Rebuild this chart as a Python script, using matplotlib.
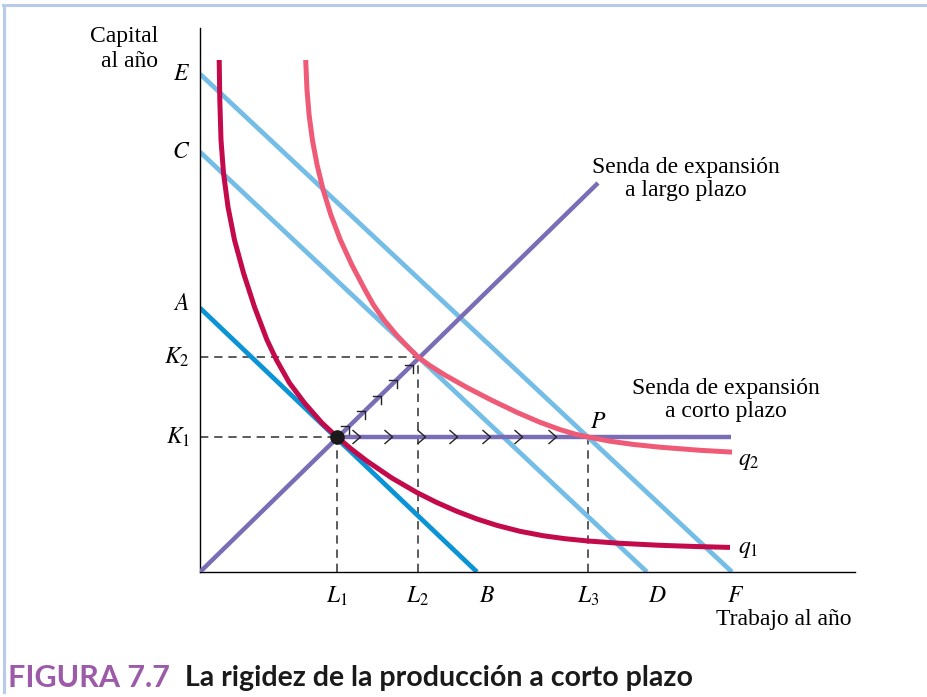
import numpy as np
import matplotlib.pyplot as plt
from matplotlib.lines import Line2D

plt.rcParams['font.family'] = ['Liberation Serif', 'DejaVu Serif']
plt.rcParams['mathtext.fontset'] = 'stix'

# Isocost line intercepts (capital axis, labour axis)
A, B = 26.4, 27.7
C, D = 42.0, 44.7
E, F = 49.8, 53.2

# Input levels
L1, L2, L3 = 13.7, 21.8, 38.8
K1, K2 = 13.5, 21.5

# Expansion paths
long_run_x = [0.0, 39.8]
long_run_y = [0.0, 38.9]
short_run_x = [13.7, 53.1]

# Isoquant q1
q1_x = [1.92, 1.98, 2.10, 2.35, 2.80, 3.45, 4.35, 5.45, 6.70, 7.65, 8.95, 10.45, 12.2, 13.7,
        15.2, 16.7, 19.2, 21.7, 23.7, 25.7, 27.7, 29.7, 32.0, 34.3, 36.5, 38.8, 42.0, 46.0,
        49.5, 53.0]
q1_y = [51.2, 47.2, 43.2, 39.9, 36.5, 33.2, 29.9, 26.5, 23.2, 21.2, 18.9, 16.9, 14.9, 13.5,
        12.24, 11.09, 9.39, 7.94, 6.94, 6.06, 5.30, 4.66, 4.07, 3.63, 3.33, 3.10, 2.87, 2.67,
        2.55, 2.46]

# Isoquant q2
q2_x = [10.57, 10.70, 10.91, 11.24, 11.71, 12.32, 13.09, 14.04, 15.19, 16.51, 17.35, 18.4,
        19.65, 20.6, 21.8, 23.0, 24.5, 26.7, 29.2, 31.7, 34.0, 36.0, 37.5, 38.8, 41.0, 43.3,
        46.0, 50.0, 53.2]
q2_y = [51.2, 48.2, 45.7, 43.2, 40.7, 38.2, 35.7, 33.2, 30.7, 28.2, 26.7, 25.2,
        23.7, 22.7, 21.5, 20.63, 19.69, 18.45, 17.16, 15.96, 14.97, 14.24, 13.79, 13.5, 13.08,
        12.76, 12.48, 12.17, 11.99]

# Arrow marks along the paths
chevron_x = [16.0, 19.2, 22.5, 25.7, 29.0, 32.2, 35.6]
hook_x = [14.9, 16.5, 18.1, 19.7, 21.3]
hook_y = [14.6, 16.1, 17.6, 19.2, 20.7]

col_q1 = '#c30a4b'
col_q2 = '#ef5b76'
col_ab = '#0a93d5'
col_iso = '#74bde7'
col_path = '#7a6db6'
col_dash = '#404040'

fig = plt.figure(figsize=(9.27, 6.97), dpi=100)
ax = fig.add_axes([200 / 927, 125 / 697, 655 / 927, 544 / 697])
ax.set_xlim(0, 65.5)
ax.set_ylim(0, 54.4)
for s in ['top', 'right']:
    ax.spines[s].set_visible(False)
for s in ['left', 'bottom']:
    ax.spines[s].set_linewidth(1.0)
ax.set_xticks([])
ax.set_yticks([])

# dashed guides
dash = dict(color=col_dash, lw=1.2, ls=(0, (5, 3.5)), zorder=1)
ax.plot([0, L1], [K1, K1], **dash)
ax.plot([0, L2], [K2, K2], **dash)
ax.plot([L1, L1], [0, K1], **dash)
ax.plot([L2, L2], [0, K2], **dash)
ax.plot([L3, L3], [0, K1], **dash)

# isocost lines
ax.plot([0, B], [A, 0], color=col_ab, lw=3.4, zorder=2, solid_capstyle='butt')
ax.plot([0, D], [C, 0], color=col_iso, lw=3.4, zorder=2, solid_capstyle='butt')
ax.plot([0, F], [E, 0], color=col_iso, lw=3.4, zorder=2, solid_capstyle='butt')

# expansion paths
ax.plot(long_run_x, long_run_y, color=col_path, lw=3.2, zorder=3, solid_capstyle='butt')
ax.plot(short_run_x, [K1, K1], color=col_path, lw=3.2, zorder=3, solid_capstyle='butt')

# isoquants
ax.plot(q1_x, q1_y, color=col_q1, lw=3.6, zorder=4, solid_capstyle='butt', solid_joinstyle='round')
ax.plot(q2_x, q2_y, color=col_q2, lw=3.6, zorder=4, solid_capstyle='butt', solid_joinstyle='round')

# arrows along the paths
for x in chevron_x:
    ax.plot([x - 0.7, x + 0.05, x - 0.7], [K1 + 0.65, K1, K1 - 0.65], color='#222222', lw=1.0, zorder=5)
for x, y in zip(hook_x, hook_y):
    ax.plot([x - 0.8, x, x], [y, y, y - 0.8], color='#222222', lw=1.0, zorder=5)

ax.plot([L1], [K1], 'o', color='#1a1a1a', ms=9.5, zorder=6)

# labels
fs = 17
ax.text(-4.2, 52.3, 'Capital\nal año', ha='right', va='center', fontsize=fs,
        multialignment='right', linespacing=1.2)
ax.text(65.2, -4.8, 'Trabajo al año', ha='right', va='center', fontsize=fs)
for lab, y in [('E', E), ('C', C), ('A', A + 0.3), ('K_2', K2), ('K_1', K1)]:
    ax.text(-1.0, y, '$%s$' % lab, ha='right', va='center', fontsize=fs)
for lab, x in [('L_1', L1), ('L_2', L2), ('B', B + 1.0), ('L_3', L3), ('D', D + 1.0), ('F', F + 0.4)]:
    ax.text(x, -2.4, '$%s$' % lab, ha='center', va='center', fontsize=fs)
ax.text(L3 + 1.0, K1 + 1.4, '$P$', ha='center', va='center', fontsize=fs)
ax.text(53.8, 11.0, '$q_2$', ha='left', va='center', fontsize=fs)
ax.text(53.8, 2.3, '$q_1$', ha='left', va='center', fontsize=fs)
ax.text(48.6, 39.3, 'Senda de expansión\na largo plazo', ha='center', va='center',
        fontsize=fs, multialignment='center', linespacing=1.15)
ax.text(52.6, 17.2, 'Senda de expansión\na corto plazo', ha='center', va='center',
        fontsize=fs, multialignment='center', linespacing=1.15)

# caption
fig.text(8 / 927, 1 - 678 / 697, 'FIGURA 7.7', color='#9c5ba9', fontsize=22,
         family=['Lato', 'DejaVu Sans'], fontweight='bold', va='center', ha='left')
fig.text(185 / 927, 1 - 678 / 697, 'La rigidez de la producción a corto plazo', color='#1a1a1a',
         fontsize=20.5, family=['Lato', 'DejaVu Sans'], fontweight='bold', va='center', ha='left')

# frame
frame = '#b8cbeb'
fig.add_artist(Line2D([3 / 927, 1], [1 - 5 / 697, 1 - 5 / 697], color=frame, lw=2.2))
fig.add_artist(Line2D([4 / 927, 4 / 927], [1 - 5 / 697, 1 - 692 / 697], color=frame, lw=2.2))

fig.savefig('out.png', dpi=100)
